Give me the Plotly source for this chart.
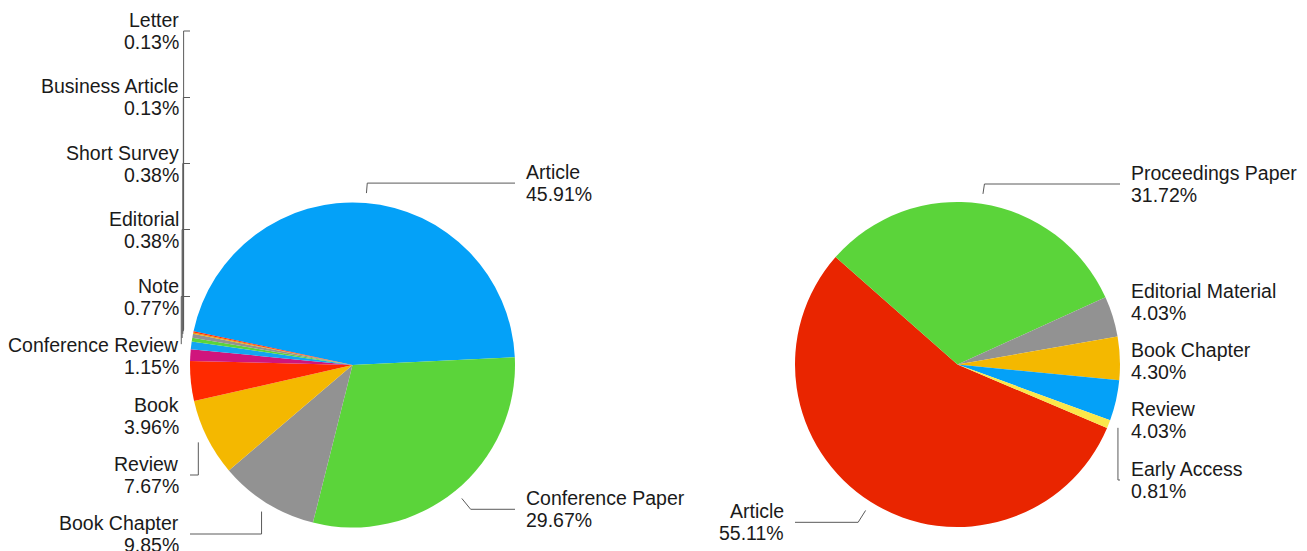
import math
import plotly.graph_objects as go

# ---------------- data ----------------
left_labels = ["Article", "Conference Paper", "Book Chapter", "Review", "Book",
               "Conference Review", "Note", "Editorial", "Short Survey",
               "Business Article", "Letter"]
left_values = [45.91, 29.67, 9.85, 7.67, 3.96, 1.15, 0.77, 0.38, 0.38, 0.13, 0.13]

right_labels = ["Article", "Proceedings Paper", "Editorial Material",
                "Book Chapter", "Review", "Early Access"]
right_values = [55.11, 31.72, 4.03, 4.30, 4.03, 0.81]

# ---------------- styles / layout constants ----------------
left_colors = ["#04A1F8", "#5BD43A", "#929292", "#F4B800", "#FF2A00", "#D0157C",
               "#12A5F2", "#5BD43A", "#929292", "#F4A400", "#FF2A00"]
right_colors = ["#E92500", "#5BD43A", "#929292", "#F4B800", "#04A1F8", "#FBE74A"]

W, H = 1307, 551
PIE_R = 162.5
LEFT_C = (352.5, 365.0)
RIGHT_C = (957.5, 364.5)
LEFT_ROT = 282
RIGHT_ROT = 113
GAP_TOP = 20            # natural label line distance outside pie (upper half)
GAP_BOTTOM = 24         # natural label line distance outside pie (lower half)
# label slot positions (pixels from top) for crowded labels; None = natural spot
LEFT_LABEL_Y = [None, None, 534, 475, 416, 356, 296.5, 229.5, 163.5, 97.5, 31]
RIGHT_LABEL_Y = [None, None, 302, 361, 420, 480]

FONT = "Liberation Sans, Arial, Helvetica, sans-serif"
FONT_SIZE = 19.5
TEXT_COLOR = "#1a1a1a"
LINE_COLOR = "#5a5a5a"


def px2paper(x, y):
    return x / W, 1 - y / H


def pie_trace(labels, values, colors, center, rot):
    cx, cy = center
    x0, y0 = px2paper(cx - PIE_R, cy + PIE_R)
    x1, y1 = px2paper(cx + PIE_R, cy - PIE_R)
    return go.Pie(
        labels=labels, values=values, sort=False, direction="clockwise",
        rotation=rot, textinfo="none", hoverinfo="label+percent",
        marker=dict(colors=colors, line=dict(width=0)),
        domain=dict(x=[x0, x1], y=[y0, y1]), showlegend=False,
    )


shapes = []
annotations = []


def add_labels(labels, values, center, rot, slots):
    cx, cy = center
    total = sum(values)
    cum = 0.0
    for lab, v, slot in zip(labels, values, slots):
        a = math.radians(rot + (cum + v / 2) / total * 360)
        cum += v
        s, c = math.sin(a), math.cos(a)
        px, py = cx + (PIE_R + 10) * s, cy - (PIE_R + 10) * c
        gap = GAP_TOP if c > 0 else GAP_BOTTOM
        natural_y = cy - (PIE_R + gap) * c
        ly = natural_y if slot is None else slot
        right = s > 0
        x_end = cx + PIE_R if right else cx - PIE_R
        dy = ly - py
        if abs(dy) <= 14 and abs(c) > 0.05:
            t = dy / (-c)
            ex = px + t * s
        else:
            ex = px
        draw = (px <= x_end + 1) if right else (px >= x_end - 1 or ly < py)
        if draw:
            for (xa, ya), (xb, yb) in [((px, py), (ex, ly)), ((ex, ly), (x_end, ly))]:
                X0, Y0 = px2paper(xa, ya)
                X1, Y1 = px2paper(xb, yb)
                shapes.append(dict(type="line", xref="paper", yref="paper",
                                   x0=X0, y0=Y0, x1=X1, y1=Y1,
                                   line=dict(color=LINE_COLOR, width=1)))
        tx = x_end + 9 if right else x_end - 9
        for text, off in [(lab, -11), (f"{v:.2f}%", 11)]:
            X, Y = px2paper(tx, ly + off)
            annotations.append(dict(
                x=X, y=Y, xref="paper", yref="paper", text=text, showarrow=False,
                xanchor="left" if right else "right", yanchor="middle",
                font=dict(family=FONT, size=FONT_SIZE, color=TEXT_COLOR)))


add_labels(left_labels, left_values, LEFT_C, LEFT_ROT, LEFT_LABEL_Y)
add_labels(right_labels, right_values, RIGHT_C, RIGHT_ROT, RIGHT_LABEL_Y)

fig = go.Figure([
    pie_trace(left_labels, left_values, left_colors, LEFT_C, LEFT_ROT),
    pie_trace(right_labels, right_values, right_colors, RIGHT_C, RIGHT_ROT),
])
fig.update_layout(
    width=W, height=H, margin=dict(l=0, r=0, t=0, b=0),
    paper_bgcolor="white", plot_bgcolor="white",
    shapes=shapes, annotations=annotations, showlegend=False,
)
fig.write_html("out.html")
